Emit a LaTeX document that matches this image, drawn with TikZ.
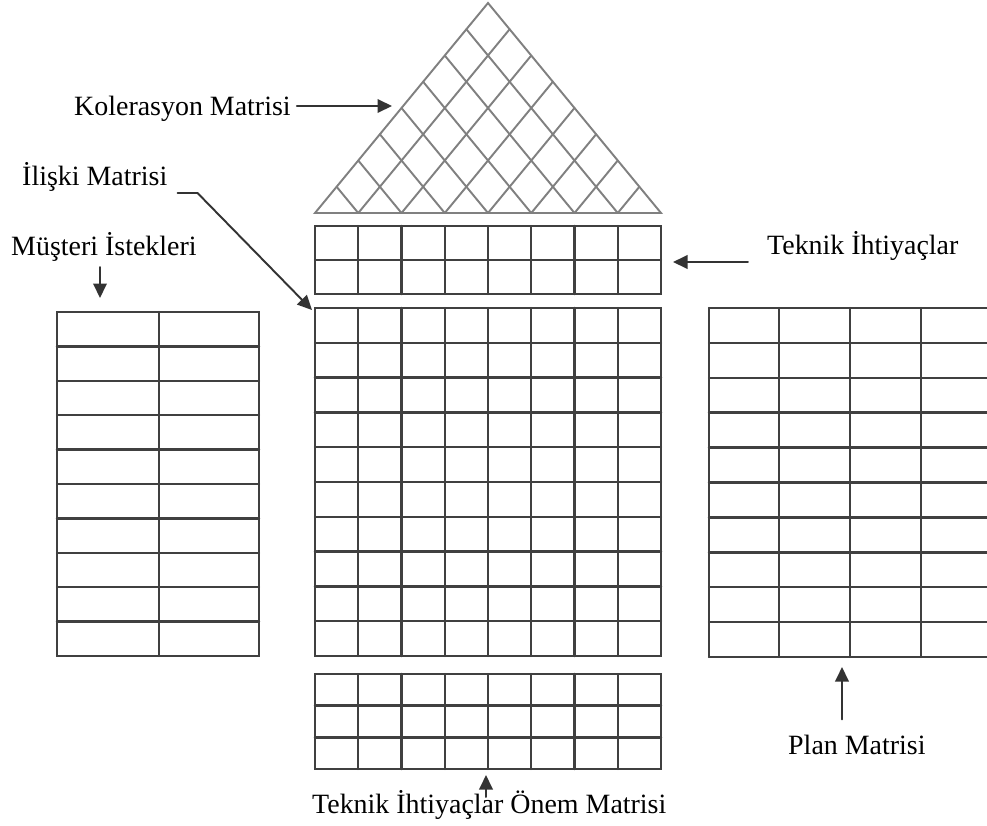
\documentclass[tikz,border=0pt]{standalone}
\usepackage{fontspec}
\setmainfont{Liberation Serif}
\usetikzlibrary{arrows.meta,calc}

\begin{document}
\begin{tikzpicture}[x=0.02cm,y=-0.02cm,>={Triangle[length=2.9mm,width=2.7mm]},font=\fontsize{15.9}{19}\selectfont,line cap=round]
\tikzset{cell/.style={black!75,line width=1.4pt},lattice/.style={black!50,line width=1.1pt},lbl/.style={anchor=base west},arr/.style={->,black!80,line width=1.1pt}}
\useasboundingbox (0,0) rectangle (987,825);
\coordinate (L) at (315,213);
\coordinate (R) at (661,213);
\coordinate (A) at (488,3);
\draw[lattice] (L) -- (A) -- (R) -- cycle;
\foreach \i in {1,...,7} {
\draw[lattice] ($(L)!\i/8!(R)$) -- ($(A)!\i/8!(R)$);
\draw[lattice] ($(L)!\i/8!(R)$) -- ($(L)!\i/8!(A)$);
}
\draw[cell] (315,226) rectangle (661,294);
\draw[cell] (315,260) -- (661,260);
\foreach \i in {1,...,7} \draw[cell] ({315+\i*43.25},226) -- ({315+\i*43.25},294);
\draw[cell] (315,308) rectangle (661,656);
\foreach \i in {1,...,7} \draw[cell] ({315+\i*43.25},308) -- ({315+\i*43.25},656);
\foreach \j in {1,...,9} \draw[cell] (315,{308+\j*34.8}) -- (661,{308+\j*34.8});
\draw[cell] (315,674) rectangle (661,769);
\foreach \i in {1,...,7} \draw[cell] ({315+\i*43.25},674) -- ({315+\i*43.25},769);
\foreach \j in {1,2} \draw[cell] (315,{674+\j*31.67}) -- (661,{674+\j*31.67});
\draw[cell] (57,312) rectangle (259,656);
\draw[cell] (159,312) -- (159,656);
\foreach \j in {1,...,9} \draw[cell] (57,{312+\j*34.4}) -- (259,{312+\j*34.4});
\foreach \j in {0,...,10} \draw[cell] (709,{308+\j*34.9}) -- (987,{308+\j*34.9});
\foreach \x in {709,779,850,921} \draw[cell] (\x,308) -- (\x,657);
\node[lbl] (kol) at (68,115) {Kolerasyon Matrisi};
\node[lbl] (ilis) at (16,185) {İlişki Matrisi};
\node[lbl] (mus) at (5,255) {Müşteri İstekleri};
\node[lbl] (tek) at (761,254) {Teknik İhtiyaçlar};
\node[lbl] (plan) at (782,754) {Plan Matrisi};
\node[lbl] (onem) at (306,813) {Teknik İhtiyaçlar Önem Matrisi};
\coordinate (kolend) at (392,106);
\coordinate (ilistip) at (312,310);
\coordinate (mustip) at (100,298);
\coordinate (tektip) at (673,262);
\coordinate (plantip) at (842,667);
\coordinate (onemtip) at (486,775);
\draw[arr] (kol.east |- kolend) -- (kolend);
\draw[arr] ([shift={(4,8)}]ilis.base east) -- ++(20,0) -- (ilistip);
\draw[arr] (mustip |- mus.south) -- (mustip);
\draw[arr] ([xshift=-0.26cm]tek.west |- tektip) -- (tektip);
\draw[arr] ([yshift=0.18cm]plantip |- plan.north) -- (plantip);
\draw[arr] ([yshift=0.32cm]onemtip |- onem.base) -- (onemtip);
\end{tikzpicture}
\end{document}
